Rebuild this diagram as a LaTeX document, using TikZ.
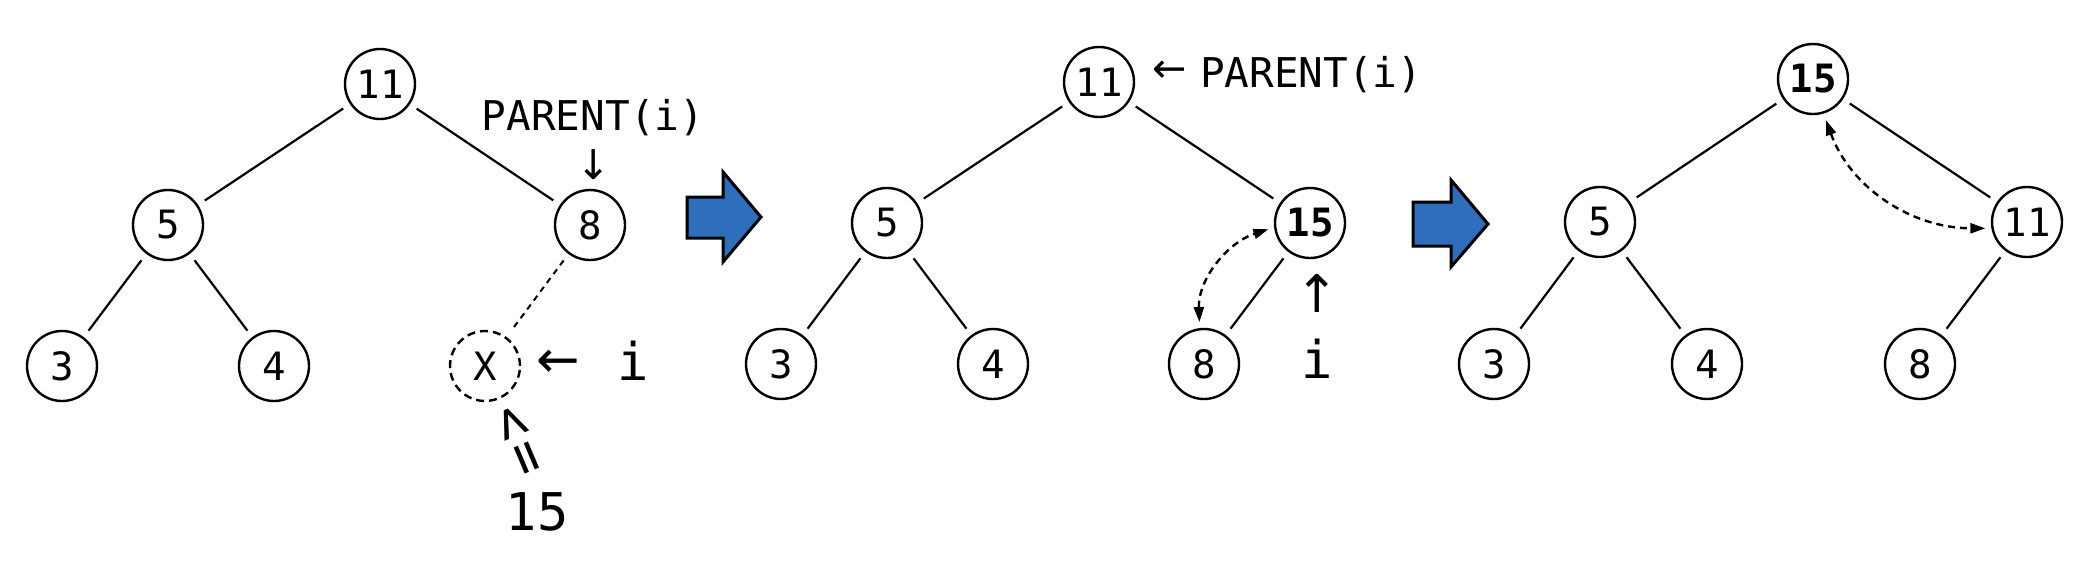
\documentclass[tikz,border=0pt]{standalone}
\usepackage{fontspec}
\usetikzlibrary{arrows.meta}
\newfontfamily\monof{DejaVu Sans Mono}
\newfontfamily\arrf{DejaVu Sans}
\definecolor{arrblue}{HTML}{2F6EBA}
\tikzset{
  nd/.style={circle, draw, fill=white, line width=2.4pt, minimum size=70pt, inner sep=0pt, font=\monof\fontsize{39}{39}\selectfont},
  bnd/.style={nd, font=\monof\bfseries\fontsize{39}{39}\selectfont},
  ghost/.style={nd, dash pattern=on 8pt off 5pt},
  edge/.style={line width=2.2pt, shorten <=8pt, shorten >=8pt},
  ghostedge/.style={line width=2pt, dash pattern=on 6pt off 5pt, shorten <=8pt, shorten >=8pt},
  swaparr/.style={line width=2.4pt, dash pattern=on 7pt off 5pt, {Triangle[length=15pt,width=10pt]}-{Triangle[length=15pt,width=10pt]}},
  lbl/.style={font=\monof\fontsize{41}{41}\selectfont, inner sep=0pt},
  biglbl/.style={font=\monof\fontsize{52}{52}\selectfont, inner sep=0pt},
  leqlbl/.style={font=\monof\fontsize{55}{55}\selectfont, inner sep=0pt},
  arrlbl/.style={font=\arrf\fontsize{41}{41}\selectfont, inner sep=0pt},
  bigarrlbl/.style={font=\arrf\fontsize{52}{52}\selectfont, inner sep=0pt},
  bluearrow/.style={fill=arrblue, draw=black, line width=3pt, line join=miter}
}
\begin{document}
\begin{tikzpicture}[x=1pt,y=1pt]
\useasboundingbox (0,0) rectangle (2080,-560);
% ---------- tree 1 ----------
\node[nd] (a11) at (380,-84) {11};
\node[nd] (a5) at (168,-225) {5};
\node[nd] (a8) at (590,-225) {8};
\node[nd] (a3) at (62,-366) {3};
\node[nd] (a4) at (274,-366) {4};
\node[ghost] (ax) at (485,-366) {X};
\draw[edge] (a11) -- (a5);
\draw[edge] (a11) -- (a8);
\draw[edge] (a5) -- (a3);
\draw[edge] (a5) -- (a4);
\draw[ghostedge] (a8) -- (ax);
\node[lbl, anchor=base] (ap) at (593,-130) {PARENT(i)};
\node[arrlbl] (apd) at (594,-165) {↓};
\node[bigarrlbl] (ail) at (558,-364) {←};
\node[biglbl, anchor=base] (ai) at (633,-380) {i};
\node[leqlbl, rotate=-67] (ale) at (518,-441) {<\kern5pt=};
\node[biglbl, anchor=base] (a15) at (537,-530) {15};
% ---------- blue arrow 1 ----------
\draw[bluearrow] (687,-197) -- (723,-197) -- (723,-172) -- (761,-217) -- (723,-262) -- (723,-238) -- (687,-238) -- cycle;
% ---------- tree 2 ----------
\node[nd] (b11) at (1099,-82) {11};
\node[nd] (b5) at (887,-223) {5};
\node[bnd] (b15) at (1310,-223) {15};
\node[nd] (b3) at (781,-364) {3};
\node[nd] (b4) at (993,-364) {4};
\node[nd] (b8) at (1204,-364) {8};
\draw[edge] (b11) -- (b5);
\draw[edge] (b11) -- (b15);
\draw[edge] (b5) -- (b3);
\draw[edge] (b5) -- (b4);
\draw[edge] (b15) -- (b8);
\draw[swaparr, shorten <=6pt, shorten >=6pt] (b8.97) to[out=92, in=198] (b15.187);
\node[arrlbl] (bpl) at (1170,-72) {←};
\node[lbl, anchor=base west] (bp) at (1200,-87) {PARENT(i)};
\node[bigarrlbl] (biu) at (1317,-293) {↑};
\node[biglbl, anchor=base] (bi) at (1317,-378) {i};
% ---------- blue arrow 2 ----------
\draw[bluearrow] (1413,-202) -- (1451,-202) -- (1451,-180) -- (1488,-224) -- (1451,-267) -- (1451,-246) -- (1413,-246) -- cycle;
% ---------- tree 3 ----------
\node[bnd] (c15) at (1813,-79) {15};
\node[nd] (c5) at (1600,-222) {5};
\node[nd] (c11) at (2027,-222) {11};
\node[nd] (c3) at (1494,-364) {3};
\node[nd] (c4) at (1707,-364) {4};
\node[nd] (c8) at (1920,-364) {8};
\draw[edge] (c15) -- (c5);
\draw[edge] (c15) -- (c11);
\draw[edge] (c5) -- (c3);
\draw[edge] (c5) -- (c4);
\draw[edge] (c11) -- (c8);
\draw[swaparr, shorten <=7pt, shorten >=6pt] (c15.-73) to[out=-70, in=180] (c11.190);
\end{tikzpicture}
\end{document}
